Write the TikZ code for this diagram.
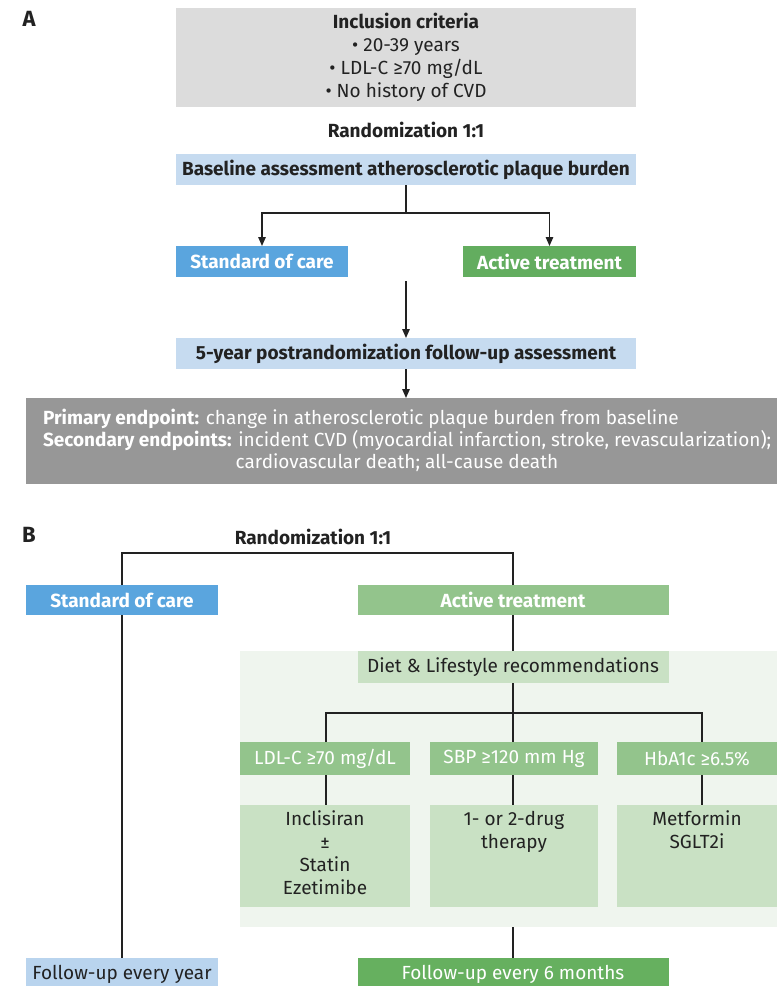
\documentclass[tikz,border=0pt]{standalone}
\usepackage{fontspec}
\setmainfont{Fira Sans}
\usetikzlibrary{arrows.meta}
\definecolor{lgray}{HTML}{DCDCDC}
\definecolor{lblue}{HTML}{C6DBF0}
\definecolor{mblue}{HTML}{5AA5DE}
\definecolor{agreen}{HTML}{63AD5F}
\definecolor{dgray}{HTML}{979797}
\definecolor{bgreen}{HTML}{93C48C}
\definecolor{pgreen}{HTML}{C9E1C4}
\definecolor{bggreen}{HTML}{EFF5EE}
\definecolor{fgreen}{HTML}{66B05F}
\definecolor{fblue}{HTML}{B9D4EE}
\definecolor{ink}{HTML}{222222}
\newcommand{\fs}{\fontsize{19}{23}\selectfont}
\begin{document}
\begin{tikzpicture}[x=1pt,y=-1pt,
  font=\fs,
  bx/.style={inner sep=0pt, outer sep=0pt, align=center, anchor=center, text=ink},
  bf/.style={font=\fs\bfseries},
  wt/.style={text=white},
  ln/.style={draw=ink, line width=1.4pt},
  arr/.style={ln, -{Triangle[length=9pt,width=7.5pt]}},
  plabel/.style={font=\fontsize{22}{22}\selectfont\bfseries, text=ink, inner sep=0pt}
]
\useasboundingbox (0,0) rectangle (777,986);

% ---------------- Panel A ----------------
\node[plabel] (labA) at (29,19) {A};
\node[bx, fill=lgray, minimum width=460pt, minimum height=99pt] (incl) at (406,57.5)
  {\textbf{Inclusion criteria}\\• 20-39 years\\• LDL-C ≥70 mg/dL\\• No history of CVD};
\node[bx, bf] (randA) at (406,130) {Randomization 1:1};
\node[bx, bf, fill=lblue, minimum width=460pt, minimum height=31pt] (base) at (406,169.5)
  {Baseline assessment atherosclerotic plaque burden};
\node[bx, bf, wt, fill=mblue, minimum width=172pt, minimum height=31pt] (socA) at (262,261.5) {Standard of care};
\node[bx, bf, wt, fill=agreen, minimum width=173pt, minimum height=31pt] (actA) at (549.5,261.5) {Active treatment};
\node[bx, bf, fill=lblue, minimum width=460pt, minimum height=31pt] (fu5) at (406,353.5)
  {5-year postrandomization follow-up assessment};
\node[bx, fill=dgray, minimum width=751pt, minimum height=86pt] (endp) at (401.5,441) {};
\node[bx, wt, anchor=west] (ep1) at (43,419) {\textbf{Primary endpoint:} change in atherosclerotic plaque burden from baseline};
\node[bx, wt, anchor=west] (ep2) at (43,441) {\textbf{Secondary endpoints:} incident CVD (myocardial infarction, stroke, revascularization);};
\node[bx, wt] (ep3) at (397,463) {cardiovascular death; all-cause death};

\coordinate (splitA) at (406,213);
\coordinate (mergeA) at (406,281);
\draw[ln] (base.south) -- (splitA);
\draw[arr] (splitA) -| (socA.north);
\draw[arr] (splitA) -| (actA.north);
\draw[arr] (mergeA) -- (fu5.north);
\draw[arr] (fu5.south) -- (endp.north -| fu5.south);

% ---------------- Panel B ----------------
\node[plabel] (labB) at (29,535) {B};
\node[bx, bf] (randB) at (313,537) {Randomization 1:1};
\node[bx, bf, wt, fill=mblue, minimum width=192pt, minimum height=30pt] (socB) at (122,600) {Standard of care};
\node[bx, bf, wt, fill=bgreen, minimum width=311pt, minimum height=30pt] (actB) at (513,600) {Active treatment};
\coordinate (tl) at (122,553);
\coordinate (tr) at (513,553);
\draw[ln] (socB.north) -- (tl) -- (tr) -- (actB.north);

\node[bx, fill=bggreen, minimum width=537pt, minimum height=276pt] (bg) at (508.5,789) {};
\node[bx, fill=pgreen, minimum width=311pt, minimum height=32pt] (diet) at (513,667) {Diet \& Lifestyle recommendations};
\draw[ln] (actB.south) -- (diet.north);

\node[bx, wt, fill=bgreen, minimum width=170pt, minimum height=33pt] (ldl) at (325,758.5) {LDL-C ≥70 mg/dL};
\node[bx, wt, fill=bgreen, minimum width=168pt, minimum height=33pt] (sbp) at (514,758.5) {SBP ≥120 mm Hg};
\node[bx, wt, fill=bgreen, minimum width=160pt, minimum height=33pt] (hba) at (697,758.5) {HbA1c ≥6.5\%};

\coordinate (s1) at (326,713);
\coordinate (s2) at (513,713);
\coordinate (s3) at (702,713);
\draw[ln] (diet.south) -- (s2);
\draw[ln] (s1 |- ldl.north) -- (s1) -- (s3) -- (s3 |- hba.north);
\draw[ln] (s2) -- (s2 |- sbp.north);

\node[bx, fill=pgreen, minimum width=170pt, minimum height=102pt] (drug1) at (325,856) {};
\node[bx, fill=pgreen, minimum width=168pt, minimum height=102pt] (drug2) at (514,856) {};
\node[bx, fill=pgreen, minimum width=160pt, minimum height=102pt] (drug3) at (697,856) {};
\node[bx, anchor=north] (t1) at (325,811) {Inclisiran\\±\\Statin\\Ezetimibe};
\node[bx, anchor=north] (t2) at (514,811) {1- or 2-drug\\therapy};
\node[bx, anchor=north] (t3) at (697,811) {Metformin\\SGLT2i};
\draw[ln] (ldl.south -| s1) -- (drug1.north -| s1);
\draw[ln] (sbp.south -| s2) -- (drug2.north -| s2);
\draw[ln] (hba.south -| s3) -- (drug3.north -| s3);

\node[bx, fill=fblue, minimum width=192pt, minimum height=32pt] (fuy) at (122,974) {Follow-up every year};
\node[bx, wt, fill=fgreen, minimum width=311pt, minimum height=32pt] (fu6) at (513,974) {Follow-up every 6 months};
\draw[ln] (socB.south) -- (fuy.north);
\draw[ln] (bg.south -| s2) -- (fu6.north);
\end{tikzpicture}
\end{document}
